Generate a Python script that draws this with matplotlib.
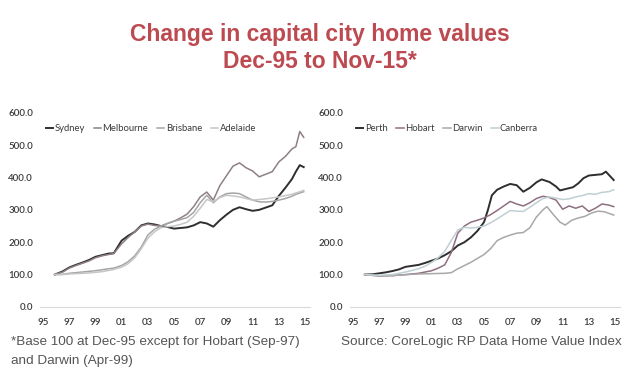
import matplotlib
matplotlib.use('Agg')
import matplotlib.pyplot as plt

plt.rcParams['font.family'] = ['Liberation Sans', 'DejaVu Sans']

# ── data (index, base 100) ────────────────────────────────────────────────────
syd_t = [1995.9, 1996.5, 1997.0, 1997.5, 1998.0, 1998.5, 1999.0, 1999.5, 2000.0, 2000.4,
         2001.0, 2001.5, 2002.0, 2002.5, 2003.0, 2003.5, 2004.0, 2004.5, 2005.0, 2005.5,
         2006.0, 2006.5, 2007.0, 2007.5, 2008.0, 2008.5, 2009.0, 2009.5, 2010.0, 2010.5,
         2011.0, 2011.5, 2012.0, 2012.5, 2013.0, 2013.5, 2014.0, 2014.3, 2014.6, 2014.9]
syd_v = [100, 110, 122, 130, 137, 145, 155, 160, 165, 166,
         205, 220, 232, 252, 258, 255, 250, 247, 242, 244,
         246, 252, 262, 258, 248, 268, 285, 300, 308, 302,
         297, 300, 307, 314, 343, 368, 395, 418, 438, 432]

mel_t = syd_t
mel_v = [100, 108, 120, 128, 135, 142, 152, 158, 162, 165,
         195, 215, 232, 250, 256, 252, 250, 258, 265, 275,
         287, 310, 340, 355, 330, 375, 405, 435, 445, 430,
         420, 402, 410, 418, 448, 465, 488, 495, 542, 524]

bne_t = syd_t
bne_v = [100, 101, 104, 106, 108, 110, 112, 115, 118, 120,
         128, 140, 158, 185, 222, 240, 250, 258, 265, 270,
         276, 292, 322, 345, 322, 340, 350, 352, 350, 340,
         330, 325, 324, 326, 330, 335, 342, 348, 352, 356]

adl_t = syd_t
adl_v = [100, 100, 102, 103, 104, 105, 107, 109, 113, 116,
         123, 134, 152, 180, 212, 232, 245, 248, 250, 255,
         262, 280, 305, 332, 325, 338, 345, 343, 340, 335,
         330, 332, 334, 337, 340, 344, 348, 352, 356, 360]

per_t = [1995.9, 1996.5, 1997.0, 1997.5, 1998.0, 1998.5, 1999.0, 1999.5, 2000.0, 2000.5,
         2001.0, 2001.5, 2002.0, 2002.5, 2003.0, 2003.5, 2004.0, 2004.5, 2005.0, 2005.3,
         2005.6, 2006.0, 2006.5, 2007.0, 2007.5, 2008.0, 2008.5, 2009.0, 2009.4, 2010.0,
         2010.5, 2010.8, 2011.3, 2011.8, 2012.2, 2012.6, 2013.0, 2013.5, 2014.0, 2014.3,
         2014.6, 2014.9]
per_v = [100, 101, 104, 107, 111, 116, 124, 127, 130, 136,
         143, 150, 160, 172, 190, 200, 215, 235, 262, 300,
         345, 362, 372, 380, 376, 356, 368, 385, 394, 386,
         372, 360, 365, 370, 382, 398, 406, 408, 410, 418,
         405, 392]

hob_t = [1995.9, 1997.0, 1998.0, 1999.0, 2000.0, 2001.0, 2001.5, 2002.0, 2002.5, 2003.0,
         2003.5, 2004.0, 2004.5, 2005.0, 2005.5, 2006.0, 2006.5, 2007.0, 2007.5, 2008.0,
         2008.5, 2009.0, 2009.5, 2010.0, 2010.5, 2011.0, 2011.5, 2012.0, 2012.5, 2013.0,
         2013.5, 2014.0, 2014.5, 2014.9]
hob_v = [100, 96, 97, 100, 104, 112, 120, 130, 168, 228,
         250, 262, 268, 275, 285, 298, 312, 326, 318, 312,
         322, 335, 342, 338, 330, 302, 312, 305, 312, 295,
         305, 318, 315, 310]

drw_t = [1995.9, 1997.0, 1998.0, 1999.0, 2000.0, 2001.0, 2002.0, 2002.5, 2003.0, 2003.5,
         2004.0, 2004.5, 2005.0, 2005.5, 2006.0, 2006.5, 2007.0, 2007.5, 2008.0, 2008.5,
         2009.0, 2009.5, 2009.8, 2010.3, 2010.8, 2011.2, 2011.7, 2012.2, 2012.7, 2013.2,
         2013.7, 2014.2, 2014.6, 2014.9]
drw_v = [100, 96, 97, 100, 102, 103, 104, 106, 118, 128,
         138, 150, 162, 180, 205, 215, 222, 228, 230, 245,
         278, 300, 310, 285, 262, 253, 268, 275, 280, 290,
         296, 294, 288, 284]

cbr_t = [1995.9, 1997.0, 1998.0, 1999.0, 2000.0, 2000.5, 2001.0, 2001.5, 2002.0, 2002.5,
         2003.0, 2003.5, 2004.0, 2004.5, 2005.0, 2005.5, 2006.0, 2006.5, 2007.0, 2007.5,
         2008.0, 2008.5, 2009.0, 2009.5, 2010.0, 2010.5, 2011.0, 2011.5, 2012.0, 2012.5,
         2013.0, 2013.5, 2014.0, 2014.5, 2014.9]
cbr_v = [100, 98, 100, 108, 118, 126, 138, 152, 172, 205,
         238, 246, 244, 246, 250, 260, 272, 285, 298, 296,
         295, 308, 322, 335, 340, 336, 332, 334, 340, 344,
         350, 348, 354, 356, 362]

year_ticks = [1995, 1997, 1999, 2001, 2003, 2005, 2007, 2009, 2011, 2013, 2015]
year_labels = ['95', '97', '99', '01', '03', '05', '07', '09', '11', '13', '15']

left_series = [('Sydney', syd_t, syd_v, '#2e2e2e', 1.4),
               ('Melbourne', mel_t, mel_v, '#8e7f88', 1.1),
               ('Brisbane', bne_t, bne_v, '#a5a5a5', 1.1),
               ('Adelaide', adl_t, adl_v, '#c6c6c6', 1.1)]
right_series = [('Perth', per_t, per_v, '#2e2e2e', 1.4),
                ('Hobart', hob_t, hob_v, '#8e6f80', 1.1),
                ('Darwin', drw_t, drw_v, '#a8a8a8', 1.1),
                ('Canberra', cbr_t, cbr_v, '#bfcfd3', 1.1)]

# ── figure ────────────────────────────────────────────────────────────────────
fig = plt.figure(figsize=(6.4, 3.78), dpi=100)
fig.patch.set_facecolor('white')

W, H = 640, 378
def panel(left_px):
    return fig.add_axes([left_px / W, (H - 307) / H, 270 / W, (307 - 112.7) / H])

for left_px, series in [(40, left_series), (350, right_series)]:
    ax = panel(left_px)
    for name, t, v, c, lw in series:
        ax.plot(t, v, color=c, lw=lw, label=name)
    ax.set_xlim(1994.77, 2015.38)
    ax.set_ylim(0, 600)
    ax.set_yticks(range(0, 601, 100))
    ax.set_yticklabels([f'{v:.1f}' for v in range(0, 601, 100)])
    ax.set_xticks(year_ticks)
    ax.set_xticklabels(year_labels)
    ax.tick_params(length=0, labelsize=7, colors='#3a3a3a')
    for lab in ax.get_xticklabels() + ax.get_yticklabels():
        lab.set_family(['Lato', 'DejaVu Sans'])
        lab.set_fontweight('semibold')
    ax.tick_params(axis='y', pad=5)
    ax.tick_params(axis='x', pad=8)
    for s in ['top', 'right', 'left']:
        ax.spines[s].set_visible(False)
    ax.spines['bottom'].set_color('#d9d9d9')
    leg = ax.legend(loc='upper left', bbox_to_anchor=(-0.01, 0.985), ncol=4, frameon=False,
                    prop={'family': ['Lato', 'DejaVu Sans'], 'size': 6.8},
                    handlelength=0.8, handletextpad=0.15, columnspacing=0.9,
                    labelcolor='#3a3a3a')

# ── texts ─────────────────────────────────────────────────────────────────────
fig.text(0.5, 1 - 35 / H, 'Change in capital city home values', ha='center', va='center',
         fontsize=16.5, fontweight='bold', color='#bd4a50')
fig.text(0.5, 1 - 62 / H, 'Dec-95 to Nov-15*', ha='center', va='center',
         fontsize=16.5, fontweight='bold', color='#bd4a50')
fig.text(11 / W, 1 - 342 / H, '*Base 100 at Dec-95 except for Hobart (Sep-97)',
         ha='left', va='center', fontsize=9.7, color='#555555')
fig.text(11 / W, 1 - 361 / H, 'and Darwin (Apr-99)',
         ha='left', va='center', fontsize=9.7, color='#555555')
fig.text(341 / W, 1 - 342 / H, 'Source: CoreLogic RP Data Home Value Index',
         ha='left', va='center', fontsize=9.7, color='#555555')

plt.savefig('out.png', dpi=100, facecolor=fig.get_facecolor())
